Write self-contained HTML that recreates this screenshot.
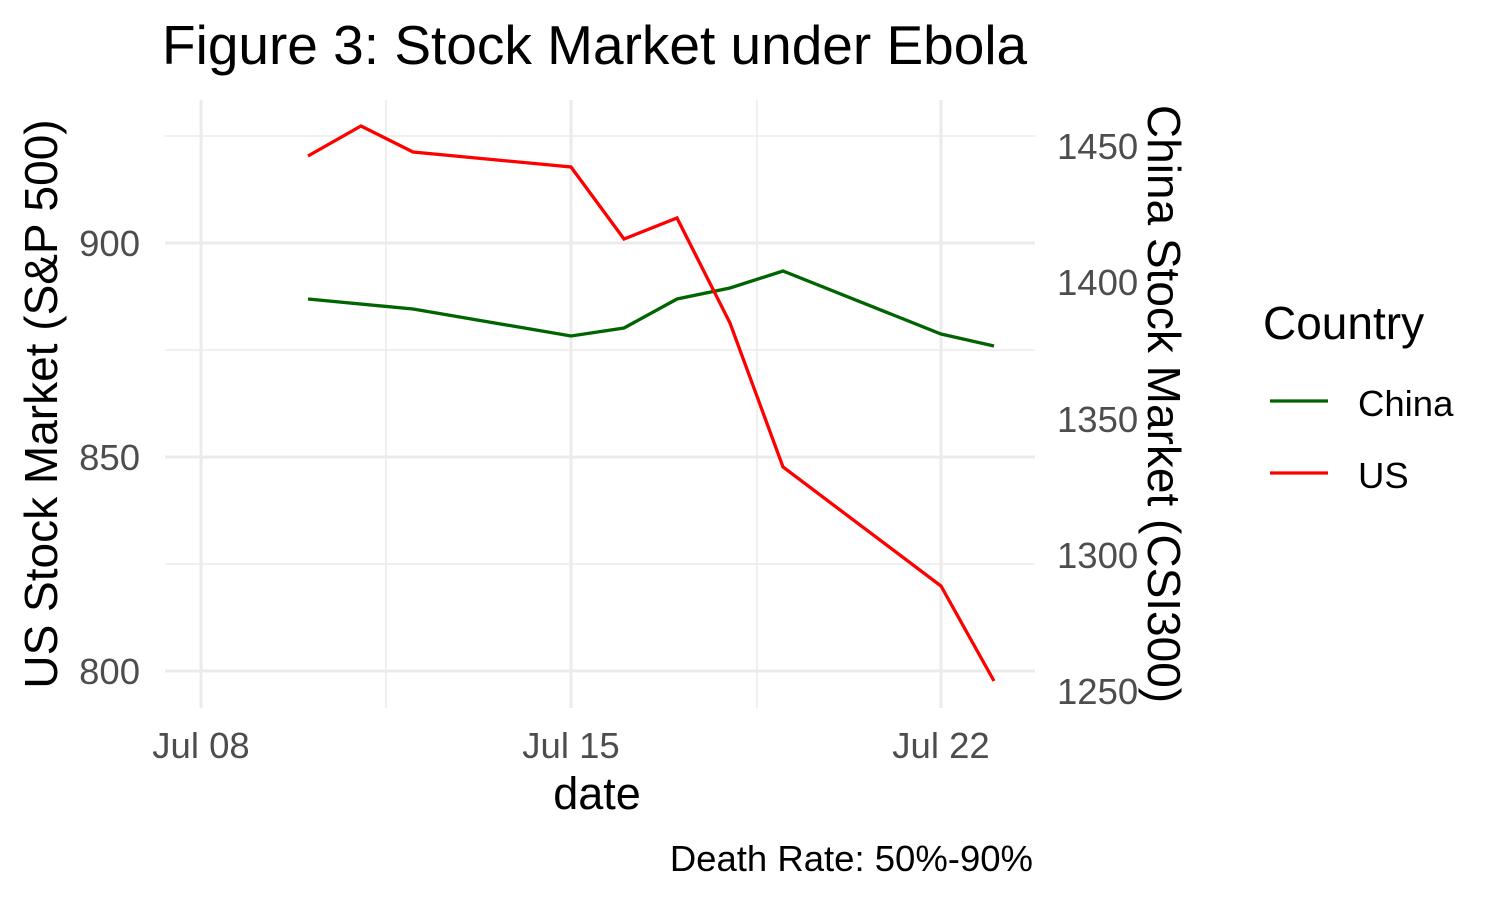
<!DOCTYPE html>
<html><head><style>body{margin:0;background:#fff}svg{display:block}text{font-family:"Liberation Sans",Arial,sans-serif}</style></head>
<body>
<svg width="1500" height="900" viewBox="0 0 1500 900">
<rect width="1500" height="900" fill="#fff"/>
<g stroke="#ebebeb" stroke-width="1.5">
<line x1="165" x2="1035" y1="136" y2="136"/><line x1="165" x2="1035" y1="350" y2="350"/><line x1="165" x2="1035" y1="564" y2="564"/>
<line x1="386" x2="386" y1="100" y2="708"/><line x1="757" x2="757" y1="100" y2="708"/>
</g>
<g stroke="#ebebeb" stroke-width="3">
<line x1="165" x2="1035" y1="243" y2="243"/><line x1="165" x2="1035" y1="457" y2="457"/><line x1="165" x2="1035" y1="671" y2="671"/>
<line x1="201" x2="201" y1="100" y2="708"/><line x1="571" x2="571" y1="100" y2="708"/><line x1="941" x2="941" y1="100" y2="708"/>
</g>
<polyline fill="none" stroke="#006400" stroke-width="3.3" points="308,299 413,309 571,336 624,328 677,299 730,288 783,271 941,334 994,346"/>
<polyline fill="none" stroke="#ff0000" stroke-width="3.3" points="308,156 361,126 413,152 571,167 624,239 677,218 730,323 783,467 941,586 994,681"/>
<g font-size="36.5" fill="#4d4d4d">
<text x="140" y="256" text-anchor="end">900</text><text x="140" y="470" text-anchor="end">850</text><text x="140" y="684" text-anchor="end">800</text>
<text x="1057" y="159">1450</text><text x="1057" y="295">1400</text><text x="1057" y="432">1350</text><text x="1057" y="568">1300</text><text x="1057" y="704">1250</text>
<text x="201" y="758" text-anchor="middle">Jul 08</text><text x="571" y="758" text-anchor="middle">Jul 15</text><text x="941" y="758" text-anchor="middle">Jul 22</text>
</g>
<text x="597" y="809" font-size="45" text-anchor="middle">date</text>
<text transform="translate(57,404) rotate(-90)" font-size="46" text-anchor="middle">US Stock Market (S&amp;P 500)</text>
<text transform="translate(1148,404) rotate(90)" font-size="46" text-anchor="middle">China Stock Market (CSI300)</text>
<text x="162" y="64" font-size="55">Figure 3: Stock Market under Ebola</text>
<text x="1033" y="871" font-size="36.5" text-anchor="end">Death Rate: 50%-90%</text>
<text x="1263" y="339" font-size="46">Country</text>
<line x1="1270" x2="1328" y1="401" y2="401" stroke="#006400" stroke-width="3.3"/>
<line x1="1270" x2="1328" y1="473" y2="473" stroke="#ff0000" stroke-width="3.3"/>
<text x="1358" y="416" font-size="36.5">China</text>
<text x="1358" y="488" font-size="36.5">US</text>
</svg>
</body></html>
